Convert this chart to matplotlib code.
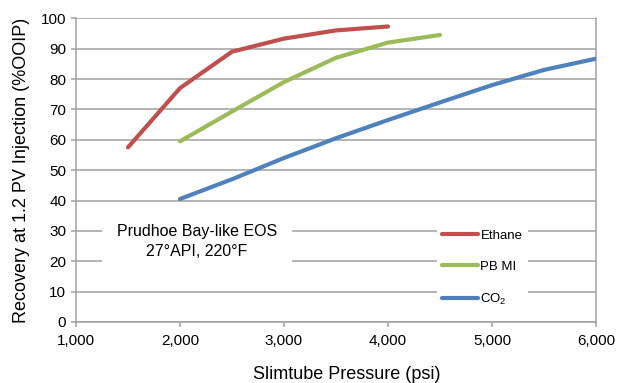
import numpy as np
import matplotlib
matplotlib.use("Agg")
import matplotlib.pyplot as plt
from matplotlib.ticker import FuncFormatter

plt.rcParams['font.family'] = ['Liberation Sans', 'DejaVu Sans']
plt.rcParams['mathtext.fontset'] = 'custom'
plt.rcParams['mathtext.rm'] = 'Liberation Sans'
plt.rcParams['mathtext.it'] = 'Liberation Sans'

# data
ethane_p = [1500, 2000, 2500, 3000, 3500, 4000]
ethane_r = [57.5, 77.0, 89.0, 93.3, 96.0, 97.3]

pbmi_p = [2000, 2500, 3000, 3500, 4000, 4500]
pbmi_r = [59.5, 69.3, 79.0, 87.0, 92.0, 94.5]

co2_p = [2000, 2500, 3000, 3500, 4000, 4500, 5000, 5500, 6000]
co2_r = [40.5, 47.0, 54.0, 60.5, 66.5, 72.3, 78.0, 83.0, 86.7]

xticks = [1000, 2000, 3000, 4000, 5000, 6000]
yticks = list(range(0, 101, 10))

grey = '#a0a0a0'

fig = plt.figure(figsize=(6.2, 3.83), dpi=100)
ax = fig.add_axes([0.1226, 0.1593, 0.8387, 0.793])

ax.plot(ethane_p, ethane_r, color='#c0504d', lw=3, label='Ethane', zorder=3, solid_capstyle='round')
ax.plot(pbmi_p, pbmi_r, color='#9bbb59', lw=3, label='PB MI', zorder=3, solid_capstyle='round')
ax.plot(co2_p, co2_r, color='#4f81bd', lw=3, label='CO$_2$', zorder=3, solid_capstyle='round')

ax.set_xlim(1000, 6000)
ax.set_ylim(0, 100)
ax.set_xticks(xticks)
ax.set_yticks(yticks)
ax.xaxis.set_major_formatter(FuncFormatter(lambda v, p: f'{int(v):,}'))
ax.yaxis.grid(True, color=grey, lw=1.1, zorder=0)
ax.set_axisbelow(True)

for s in ['left', 'bottom', 'right']:
    ax.spines[s].set_color(grey)
    ax.spines[s].set_linewidth(1.1)
ax.spines['top'].set_visible(False)
ax.tick_params(colors=grey, labelcolor='black', labelsize=11, length=3.5, width=1.1)
ax.tick_params(axis='x', pad=5)

ax.set_xlabel('Slimtube Pressure (psi)', fontsize=13)
ax.set_ylabel('Recovery at 1.2 PV Injection (%OOIP)', fontsize=13, labelpad=8)
ax.xaxis.set_label_coords(0.52, -0.145)

ax.text(2163, 26.5, 'Prudhoe Bay-like EOS\n27°API, 220°F', ha='center', va='center',
        fontsize=11.5, linespacing=1.4, zorder=2,
        bbox=dict(facecolor='white', edgecolor='none', boxstyle='square,pad=0.95'))

leg = ax.legend(loc='center left', bbox_to_anchor=(0.694, 0.177), fontsize=9.5,
                frameon=True, fancybox=False, edgecolor='none', facecolor='white',
                framealpha=1, handlelength=2.75, handletextpad=0.15, labelspacing=1.45,
                borderpad=0.4, borderaxespad=0)
leg.set_zorder(4)

fig.savefig('out.png', dpi=100)
